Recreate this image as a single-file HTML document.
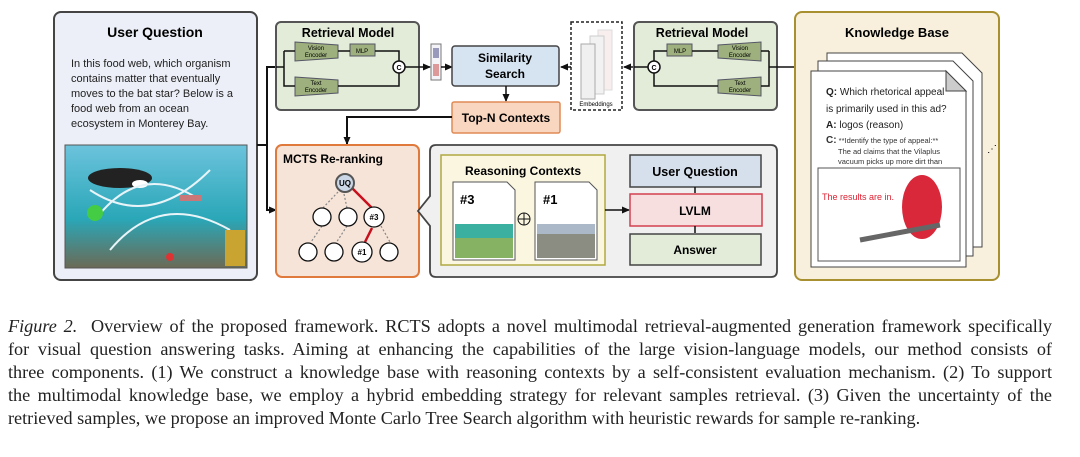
<!DOCTYPE html>
<html><head><meta charset="utf-8"><style>
body{margin:0;width:1080px;height:457px;background:#fff;overflow:hidden;position:relative;font-family:"Liberation Sans",sans-serif}
svg{position:absolute;left:0;top:0}
.cap{position:absolute;left:8px;width:1044px;font-family:"Liberation Serif",serif;font-size:18.2px;color:#222;text-align:justify;text-align-last:justify;white-space:nowrap;line-height:20px}
.cap.last{text-align-last:left;width:auto}
</style></head><body>
<svg width="1080" height="300" viewBox="0 0 1080 300" font-family="Liberation Sans, sans-serif">
<defs>
<marker id="a" markerUnits="userSpaceOnUse" markerWidth="8" markerHeight="8" refX="7" refY="4" orient="auto"><path d="M0,0.5 L8,4 L0,7.5z" fill="#111"/></marker>
<linearGradient id="sea" x1="0" y1="0" x2="0" y2="1"><stop offset="0" stop-color="#6cc3dc"/><stop offset="0.6" stop-color="#2aa7b8"/><stop offset="1" stop-color="#6b6a55"/></linearGradient>
</defs>
<rect x="54" y="12" width="203" height="268" rx="7" fill="#eceff7" stroke="#444" stroke-width="2"/>
<text x="155" y="37" text-anchor="middle" font-size="14" font-weight="bold">User Question</text>
<g font-size="11" fill="#222"><text x="71" y="67">In this food web, which organism</text><text x="71" y="82">contains matter that eventually</text><text x="71" y="97">moves to the bat star? Below is a</text><text x="71" y="112">food web from an ocean</text><text x="71" y="127">ecosystem in Monterey Bay.</text></g>
<rect x="65" y="145" width="182" height="123" fill="url(#sea)" stroke="#555"/>
<ellipse cx="120" cy="178" rx="32" ry="10" fill="#222"/><ellipse cx="140" cy="184" rx="8" ry="4" fill="#fff"/>
<path d="M95,220 Q140,160 200,200 M110,250 Q160,190 230,230 M90,190 Q150,230 210,170" stroke="#e8f4f8" stroke-width="2" fill="none"/>
<circle cx="95" cy="213" r="8" fill="#4c4"/><rect x="180" y="195" width="22" height="6" fill="#c77"/><circle cx="170" cy="257" r="4" fill="#d33"/>
<rect x="225" y="230" width="20" height="36" fill="#c9a431"/>
<path d="M257,145 H267 V67 H276" stroke="#111" stroke-width="2" fill="none"/>
<path d="M267,145 V210 H276" stroke="#111" stroke-width="2" fill="none" marker-end="url(#a)"/>
<rect x="276" y="22" width="143" height="88" rx="5" fill="#e3ecd8" stroke="#555" stroke-width="2"/>
<text x="348" y="37" text-anchor="middle" font-size="12.5" font-weight="bold">Retrieval Model</text>
<polygon points="295,42 338,45 338,58 295,61" fill="#9db07d" stroke="#556"/>
<text x="316" y="50" font-size="6" text-anchor="middle">Vision</text><text x="316" y="57" font-size="6" text-anchor="middle">Encoder</text>
<rect x="350" y="44" width="25" height="12" fill="#9db07d" stroke="#556"/><text x="362" y="53" font-size="6" text-anchor="middle">MLP</text>
<polygon points="295,77 338,80 338,93 295,96" fill="#9db07d" stroke="#556"/>
<text x="316" y="85" font-size="6" text-anchor="middle">Text</text><text x="316" y="92" font-size="6" text-anchor="middle">Encoder</text>
<circle cx="399" cy="67" r="6" fill="#fff" stroke="#111" stroke-width="1.5"/><text x="399" y="70" font-size="7" font-weight="bold" text-anchor="middle">C</text>
<g stroke="#111" stroke-width="1.5" fill="none"><path d="M284,51 H295 M284,51 V86 H295 M338,51 H350 M375,51 H399 V61 M338,86 H399 V73"/><path d="M405,67 H430" marker-end="url(#a)"/></g>
<path d="M276,67 H284" stroke="#111" stroke-width="1.5" fill="none"/>
<rect x="431" y="44" width="10" height="36" fill="#f4f4f8" stroke="#777"/>
<rect x="433" y="48" width="6" height="10" fill="#99b"/><rect x="433" y="64" width="6" height="12" fill="#d99"/>
<path d="M441,67 H452" stroke="#111" stroke-width="1.5" marker-end="url(#a)"/>
<rect x="452" y="46" width="107" height="40" rx="3" fill="#d6e4f2" stroke="#444" stroke-width="1.5"/>
<text x="505" y="62" text-anchor="middle" font-size="12" font-weight="bold">Similarity</text>
<text x="505" y="78" text-anchor="middle" font-size="12" font-weight="bold">Search</text>
<path d="M506,86 V101" stroke="#111" stroke-width="1.5" marker-end="url(#a)"/>
<rect x="452" y="102" width="108" height="31" rx="2" fill="#f9d6bf" stroke="#e08a55" stroke-width="1.5"/>
<text x="506" y="122" text-anchor="middle" font-size="12" font-weight="bold">Top-N Contexts</text>
<path d="M452,117 H347 V144" stroke="#111" stroke-width="2" fill="none" marker-end="url(#a)"/>
<rect x="571" y="22" width="51" height="88" fill="#fff" stroke="#222" stroke-width="1.5" stroke-dasharray="3,2"/>
<rect x="598" y="30" width="14" height="60" fill="#f8eeee" stroke="#ddd"/><rect x="590" y="36" width="14" height="58" fill="#f2f2f2" stroke="#ccc"/><rect x="581" y="44" width="14" height="55" fill="#f0f0f0" stroke="#aaa"/>
<text x="596" y="106" font-size="6" text-anchor="middle">Embeddings</text>
<path d="M571,67 H561" stroke="#111" stroke-width="1.5" marker-end="url(#a)"/>
<path d="M634,67 H624" stroke="#111" stroke-width="1.5" marker-end="url(#a)"/>
<rect x="634" y="22" width="143" height="88" rx="5" fill="#e3ecd8" stroke="#555" stroke-width="2"/>
<text x="702" y="37" text-anchor="middle" font-size="12.5" font-weight="bold">Retrieval Model</text>
<polygon points="718,45 761,42 761,61 718,58" fill="#9db07d" stroke="#556"/>
<text x="740" y="50" font-size="6" text-anchor="middle">Vision</text><text x="740" y="57" font-size="6" text-anchor="middle">Encoder</text>
<rect x="667" y="44" width="25" height="12" fill="#9db07d" stroke="#556"/><text x="680" y="53" font-size="6" text-anchor="middle">MLP</text>
<polygon points="718,80 761,77 761,96 718,93" fill="#9db07d" stroke="#556"/>
<text x="740" y="85" font-size="6" text-anchor="middle">Text</text><text x="740" y="92" font-size="6" text-anchor="middle">Encoder</text>
<circle cx="654" cy="67" r="6" fill="#fff" stroke="#111" stroke-width="1.5"/><text x="654" y="70" font-size="7" font-weight="bold" text-anchor="middle">C</text>
<g stroke="#111" stroke-width="1.5" fill="none"><path d="M769,51 H761 M769,51 V86 H761 M718,51 H692 M667,51 H654 V61 M718,86 H654 V73 M769,67 H795 M648,67 H634"/></g>
<rect x="795" y="12" width="204" height="268" rx="7" fill="#f8f0dc" stroke="#a89030" stroke-width="2"/>
<text x="897" y="37" text-anchor="middle" font-size="13" font-weight="bold">Knowledge Base</text>
<path d="M827,53 H962 L982,73 V247 H827Z" fill="#fff" stroke="#444"/>
<path d="M818,61 H953 L973,81 V256 H818Z" fill="#fff" stroke="#444"/>
<path d="M811,71 H946 L966,91 V267 H811Z" fill="#fff" stroke="#444"/>
<path d="M946,71 L966,91 L946,91Z" fill="#ccc" stroke="#444"/>
<g font-size="10" fill="#222"><text x="826" y="95"><tspan font-weight="bold">Q:</tspan> Which rhetorical appeal</text><text x="826" y="112">is primarily used in this ad?</text><text x="826" y="128"><tspan font-weight="bold">A:</tspan> logos (reason)</text></g>
<g font-size="7.5" fill="#333"><text x="826" y="143"><tspan font-weight="bold" font-size="10">C:</tspan> **Identify the type of appeal:**</text><text x="838" y="154">The ad claims that the Vilaplus</text><text x="838" y="164">vacuum picks up more dirt than</text></g>
<rect x="818" y="168" width="142" height="93" fill="#fff" stroke="#555"/>
<text x="822" y="200" font-size="9" fill="#d23">The results are in.</text>
<ellipse cx="922" cy="207" rx="20" ry="32" fill="#d8283a"/><path d="M860,240 L940,225" stroke="#666" stroke-width="5"/>
<text x="987" y="152" font-size="10">⋰</text>
<rect x="276" y="145" width="143" height="132" rx="6" fill="#f7e4d8" stroke="#e07a3c" stroke-width="2"/>
<text x="333" y="163" text-anchor="middle" font-size="12" font-weight="bold">MCTS Re-ranking</text>
<g stroke="#888" stroke-width="1.2" stroke-dasharray="2,2"><path d="M338,192 L321,210 M344,194 L347,208 M322,226 L311,242 M347,226 L336,243 M381,226 L390,242"/></g>
<g stroke="#c8101d" stroke-width="2.5"><path d="M352,188 L372,208 M372,228 L365,242"/></g>
<g fill="#fff" stroke="#111" stroke-width="1.3"><circle cx="345" cy="183" r="9" fill="#cbd6e6" stroke="#555" stroke-width="2"/><circle cx="322" cy="217" r="9"/><circle cx="348" cy="217" r="9"/><circle cx="374" cy="217" r="10"/><circle cx="308" cy="252" r="9"/><circle cx="334" cy="252" r="9"/><circle cx="362" cy="252" r="10"/><circle cx="389" cy="252" r="9"/></g>
<g font-size="8" font-weight="bold" text-anchor="middle"><text x="345" y="186">UQ</text><text x="374" y="220">#3</text><text x="362" y="255">#1</text></g>
<path d="M436,145 H771 Q777,145 777,151 V271 Q777,277 771,277 H436 Q430,277 430,271 V226 L418,211 L430,196 V151 Q430,145 436,145Z" fill="#f0f0f0" stroke="#444" stroke-width="1.8"/>
<rect x="441" y="155" width="164" height="110" fill="#fbf6e0" stroke="#b0a840" stroke-width="1.5"/>
<text x="523" y="175" text-anchor="middle" font-size="12" font-weight="bold">Reasoning Contexts</text>
<path d="M453,182 H507 L515,190 V260 H453Z" fill="#fff" stroke="#555"/>
<text x="460" y="204" font-size="13" font-weight="bold">#3</text>
<rect x="455" y="224" width="58" height="34" fill="#3bb0a0"/><rect x="455" y="238" width="58" height="20" fill="#a7b44a" opacity="0.7"/>
<path d="M535,182 H589 L597,190 V260 H535Z" fill="#fff" stroke="#555"/>
<text x="543" y="204" font-size="13" font-weight="bold">#1</text>
<rect x="537" y="224" width="58" height="34" fill="#8b8c82"/><rect x="537" y="224" width="58" height="10" fill="#aab8c8"/>
<circle cx="524" cy="219" r="6" fill="none" stroke="#111"/><path d="M518,219 H530 M524,213 V225" stroke="#111"/>
<path d="M605,210 H629" stroke="#111" stroke-width="1.5" marker-end="url(#a)"/>
<rect x="630" y="155" width="131" height="32" fill="#d6e0ec" stroke="#444" stroke-width="1.5"/>
<text x="695" y="176" text-anchor="middle" font-size="12.5" font-weight="bold">User Question</text>
<rect x="630" y="194" width="132" height="32" fill="#f7dfe0" stroke="#d34050" stroke-width="1.5"/>
<text x="695" y="215" text-anchor="middle" font-size="12" font-weight="bold">LVLM</text>
<rect x="630" y="234" width="131" height="31" fill="#e2ecd8" stroke="#444" stroke-width="1.5"/>
<text x="695" y="254" text-anchor="middle" font-size="12" font-weight="bold">Answer</text>
<path d="M695,187 V193 M695,226 V233" stroke="#111" stroke-width="1.5"/>
</svg>
<div class="cap" style="top:316px"><i>Figure 2.</i>&nbsp; Overview of the proposed framework. RCTS adopts a novel multimodal retrieval-augmented generation framework specifically</div>
<div class="cap" style="top:339px">for visual question answering tasks. Aiming at enhancing the capabilities of the large vision-language models, our method consists of</div>
<div class="cap" style="top:362px">three components. (1) We construct a knowledge base with reasoning contexts by a self-consistent evaluation mechanism. (2) To support</div>
<div class="cap" style="top:385px">the multimodal knowledge base, we employ a hybrid embedding strategy for relevant samples retrieval. (3) Given the uncertainty of the</div>
<div class="cap last" style="top:408px">retrieved samples, we propose an improved Monte Carlo Tree Search algorithm with heuristic rewards for sample re-ranking.</div>
</body></html>
